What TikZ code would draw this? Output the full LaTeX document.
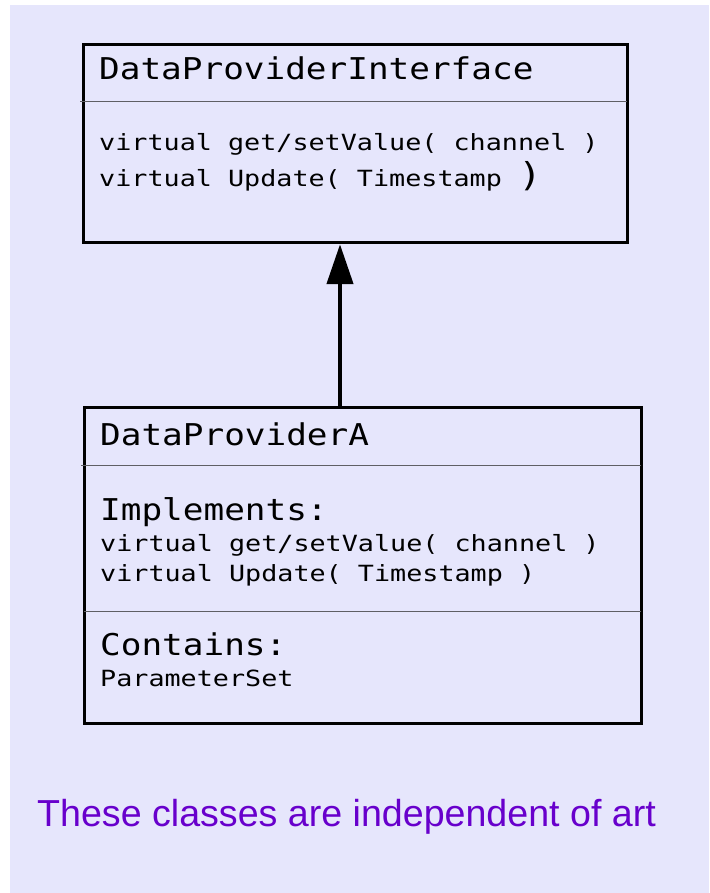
\documentclass[tikz,border=0pt]{standalone}
\usepackage{fontspec}
\usetikzlibrary{arrows.meta}
\setmainfont{Liberation Sans}
\newfontfamily\umlhead[FakeStretch=1.145]{DejaVu Sans Mono}
\newfontfamily\umlbody[FakeStretch=1.2]{DejaVu Sans Mono}
\newcommand\headfont{\umlhead\fontsize{30}{32}\selectfont}
\newcommand\bodyfont{\umlbody\fontsize{22.3}{24}\selectfont}
\newcommand\parenfont{\umlbody\fontsize{33}{34}\selectfont}
\definecolor{bgLav}{RGB}{230,230,252}
\definecolor{capPurple}{RGB}{104,0,204}
\definecolor{sepGray}{RGB}{95,95,100}

\begin{document}
\begin{tikzpicture}[x=1pt,y=-1pt,
  classbox/.style={draw=black,line width=3pt,inner sep=0pt},
  sepline/.style={draw=sepGray,line width=1pt},
  headtxt/.style={anchor=base west,inner sep=0pt,font=\headfont},
  bodytxt/.style={anchor=base west,inner sep=0pt,font=\bodyfont},
  inherits/.style={line width=4.5pt,-{Triangle[length=40pt,width=26pt]}}]

  % page and background panel
  \useasboundingbox (0,0) rectangle (709,893);
  \fill[bgLav] (10,5) rectangle (709,893);

  % interface class
  \node[classbox,minimum width=544.5pt,minimum height=198pt] (iface) at (355.25,143.7) {};
  \draw[sepline] (80,102) -- (627,102);
  \node[headtxt] (ifaceName) at (99,80) {DataProviderInterface};
  \node[bodytxt] (ifaceOpA) at (99,150.7) {virtual get/setValue( channel )};
  \node[bodytxt] (ifaceOpB) at (99,186.7) {virtual Update( Timestamp {\parenfont)}};

  % implementing class
  \node[classbox,minimum width=557.5pt,minimum height=315.5pt] (impl) at (362.75,565.25) {};
  \draw[sepline] (81,465.3) -- (641,465.3);
  \draw[sepline] (84,611) -- (641,611);
  \node[headtxt] (implName) at (100,445) {DataProviderA};
  \node[headtxt] (implHdr) at (100,520.7) {Implements:};
  \node[bodytxt] (implOpA) at (100,551.7) {virtual get/setValue( channel )};
  \node[bodytxt] (implOpB) at (100,581.7) {virtual Update( Timestamp )};
  \node[headtxt] (holdHdr) at (100,655) {Contains:};
  \node[bodytxt] (holdItem) at (100,686.7) {ParameterSet};

  % generalisation arrow
  \coordinate (arrowx) at (340,0);
  \draw[inherits] (impl.north -| arrowx) -- (iface.south -| arrowx);

  % caption
  \node[anchor=base west,inner sep=0pt,text=capPurple,font=\fontsize{37.6}{40}\selectfont] (caption) at (37,826.7) {These classes are independent of art};
\end{tikzpicture}
\end{document}
